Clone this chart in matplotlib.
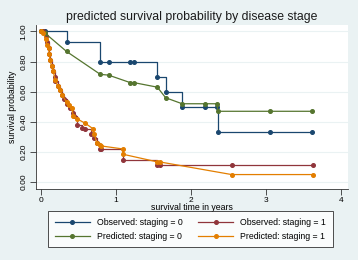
import numpy as np
import matplotlib.pyplot as plt

plt.rcParams['font.family'] = ['Liberation Sans', 'DejaVu Sans']

# observed KM, staging = 0
t_obs0 = [0.0, 0.05, 0.34, 0.79, 0.90, 1.19, 1.24, 1.55, 1.66, 1.88, 2.18, 2.34, 2.36, 3.05, 3.61]
s_obs0 = [1.0, 1.0, 0.93, 0.80, 0.80, 0.80, 0.80, 0.70, 0.60, 0.50, 0.50, 0.50, 0.33, 0.33, 0.33]

# predicted, staging = 0
t_pred0 = [0.0, 0.05, 0.34, 0.79, 0.90, 1.19, 1.24, 1.55, 1.66, 1.88, 2.18, 2.34, 2.36, 3.05, 3.61]
s_pred0 = [1.0, 0.99, 0.867, 0.715, 0.71, 0.66, 0.66, 0.63, 0.56, 0.52, 0.52, 0.52, 0.47, 0.47, 0.47]

# observed KM, staging = 1
t_obs1 = [0.0, 0.03, 0.06, 0.08, 0.10, 0.11, 0.12, 0.14, 0.16, 0.18, 0.19, 0.22, 0.25, 0.28,
          0.31, 0.35, 0.38, 0.42, 0.44, 0.48, 0.55, 0.59, 0.66, 0.71, 0.74, 0.78, 0.80,
          1.09, 1.55, 1.58, 2.54, 3.62]
s_obs1 = [1.0, 1.0, 0.97, 0.93, 0.89, 0.85, 0.81, 0.77, 0.74, 0.70, 0.67, 0.64, 0.61, 0.575,
          0.55, 0.52, 0.49, 0.46, 0.44, 0.38, 0.36, 0.35, 0.32, 0.29, 0.26, 0.22, 0.22,
          0.146, 0.113, 0.113, 0.113, 0.113]

# predicted, staging = 1
t_pred1 = [0.0, 0.03, 0.06, 0.08, 0.10, 0.11, 0.12, 0.14, 0.16, 0.19, 0.22, 0.25, 0.28,
           0.34, 0.37, 0.41, 0.43, 0.48, 0.59, 0.69, 0.71, 0.74, 0.79, 0.80, 1.09, 1.09,
           1.55, 1.58, 2.54, 3.62]
s_pred1 = [1.0, 0.99, 0.95, 0.91, 0.89, 0.85, 0.81, 0.77, 0.74, 0.675, 0.64, 0.61, 0.58,
           0.53, 0.51, 0.49, 0.44, 0.42, 0.39, 0.355, 0.32, 0.26, 0.245, 0.24, 0.22, 0.185,
           0.134, 0.134, 0.05, 0.05]

navy = '#1a476f'
maroon = '#90353b'
green = '#55752f'
orange = '#e37e00'
bg = '#eaf2f3'

fig = plt.figure(figsize=(3.58, 2.6), dpi=100, facecolor=bg)
ax = fig.add_axes([0.1006, 0.273, 0.8714, 0.631])
ax.set_facecolor('white')

ms = 2.6
lw = 0.9
ax.plot(t_obs0, s_obs0, drawstyle='steps-post', color=navy, lw=lw, marker='o', ms=ms,
        label='Observed: staging = 0')
ax.plot(t_obs1, s_obs1, drawstyle='steps-post', color=maroon, lw=lw, marker='o', ms=ms,
        label='Observed: staging = 1')
ax.plot(t_pred0, s_pred0, color=green, lw=lw, marker='o', ms=ms,
        label='Predicted: staging = 0')
ax.plot(t_pred1, s_pred1, color=orange, lw=lw, marker='o', ms=ms,
        label='Predicted: staging = 1')

ax.set_xlim(-0.067, 4.09)
ax.set_ylim(-0.046, 1.043)
ax.set_xticks([0, 1, 2, 3, 4])
yt = [0, 0.2, 0.4, 0.6, 0.8, 1.0]
ax.set_yticks(yt)
ax.set_yticklabels(['%.2f' % v for v in yt], rotation=90, va='center')
ax.tick_params(labelsize=6, length=4, width=0.6, pad=2, color='#333333')
ax.grid(axis='y', color=bg, lw=0.8)
ax.set_axisbelow(True)
for s in ['top', 'right']:
    ax.spines[s].set_visible(False)
for s in ['left', 'bottom']:
    ax.spines[s].set_linewidth(0.6)
    ax.spines[s].set_color('#333333')

ax.set_xlabel('survival time in years', fontsize=6.3, labelpad=-1)
ax.set_ylabel('survival probability', fontsize=6.3, labelpad=3)
fig.text(0.535, 0.935, 'predicted survival probability by disease stage', fontsize=8.8,
         ha='center', va='center', color='#1a1a1a')

h, l = ax.get_legend_handles_labels()
order = [0, 2, 1, 3]
leg = fig.legend([h[i] for i in order], [l[i] for i in order], ncol=2, loc='center',
                 bbox_to_anchor=(0.532, 0.118), fontsize=6.3, frameon=True, fancybox=False,
                 edgecolor='black', handlelength=4.0, columnspacing=1.8, borderpad=0.75,
                 labelspacing=0.55, handletextpad=0.8)
leg.get_frame().set_linewidth(0.6)

fig.savefig('out.png', dpi=100, facecolor=bg)
